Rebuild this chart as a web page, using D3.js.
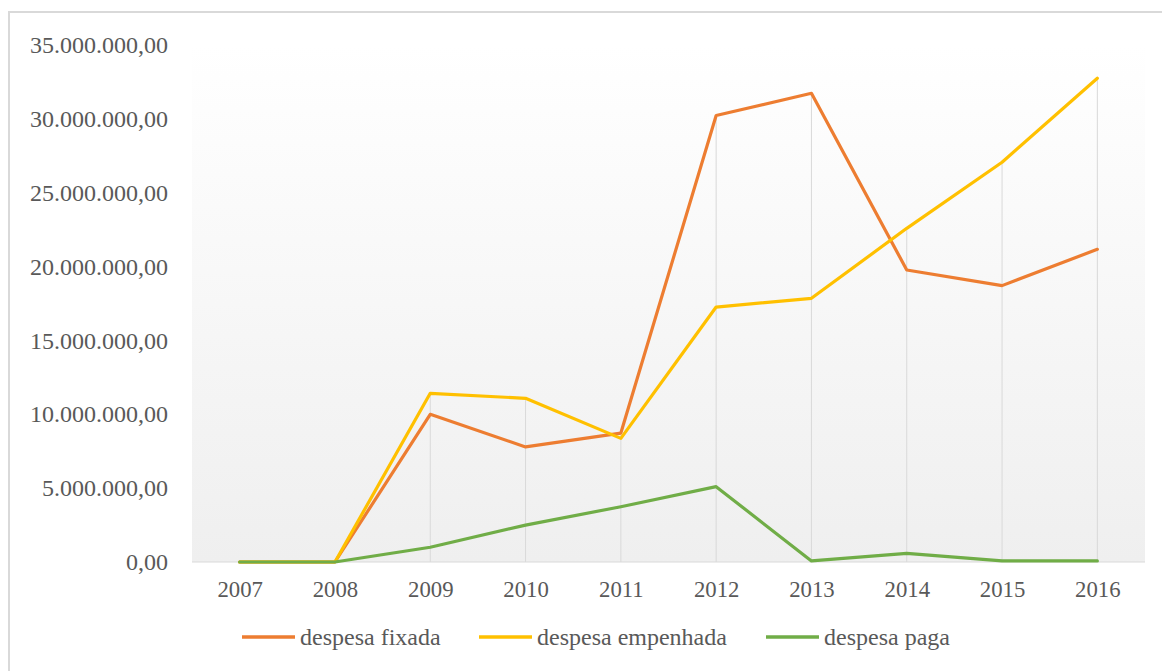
<!DOCTYPE html>
<html>
<head>
<meta charset="utf-8">
<script src="https://cdn.jsdelivr.net/npm/d3@7"></script>
<style>
  html, body { margin: 0; padding: 0; background: #ffffff; }
  svg { display: block; }
</style>
</head>
<body>
<svg id="chart" width="1162" height="671"></svg>
<script>
// ---- data ----
const years = ["2007","2008","2009","2010","2011","2012","2013","2014","2015","2016"];
const despesaFixada    = [0, 0, 10.0e6, 7.79e6, 8.73e6, 30.23e6, 31.73e6, 19.77e6, 18.71e6, 21.17e6];
const despesaEmpenhada = [0, 0, 11.42e6, 11.08e6, 8.37e6, 17.26e6, 17.85e6, 22.59e6, 27.06e6, 32.75e6];
const despesaPaga      = [0, 0, 1.0e6, 2.5e6, 3.74e6, 5.1e6, 0.07e6, 0.59e6, 0.07e6, 0.07e6];
const seriesNames  = ["despesa fixada", "despesa empenhada", "despesa paga"];
const seriesColors = ["#ED7D31", "#FFC000", "#70AD47"];
const yTicks = [0, 5e6, 10e6, 15e6, 20e6, 25e6, 30e6, 35e6];

const series = [despesaFixada, despesaEmpenhada, despesaPaga].map((vals, i) => ({
  name: seriesNames[i], color: seriesColors[i],
  values: vals.map((v, j) => ({ year: years[j], value: v }))
}));

// ---- font selection (serif, Times-like) ----
const canvas = document.createElement("canvas");
const ctx = canvas.getContext("2d");
function w(str, fam, size) { ctx.font = `${size}px ${fam}`; return ctx.measureText(str).width; }
function available(name) {
  const probe = "mmmmmmmmmmlliiWW0123";
  return ["monospace", "sans-serif"].some(b => Math.abs(w(probe, `"${name}", ${b}`, 72) - w(probe, b, 72)) > 0.5);
}
const candidates = ["Liberation Serif", "Tinos", "Times New Roman", "Nimbus Roman", "DejaVu Serif", "Noto Serif"];
const fontName = candidates.find(available) || "serif";
const FONT = `"${fontName}", serif`;
function sizeFor(str, targetWidth) { return 100 * targetWidth / w(str, FONT, 100); }
const yTickSize = Math.min(sizeFor("35.000.000,00", 138), 24);
const xTickSize = Math.min(sizeFor("2007", 45.5), 24);
const legendSize = Math.min(sizeFor("despesa empenhada", 190), 26);

// ---- layout ----
const svg = d3.select("#chart");
const plot = { left: 192, right: 1145, top: 45, bottom: 562 };

const x = d3.scalePoint().domain(years).range([plot.left, plot.right]).padding(0.5);
const y = d3.scaleLinear().domain([0, 35e6]).range([plot.bottom, plot.top]);

const ptBR = d3.formatLocale({ decimal: ",", thousands: ".", grouping: [3], currency: ["R$", ""] });
const fmt = ptBR.format(",.2f");

// chart border
svg.append("rect")
  .attr("x", 9).attr("y", 12).attr("width", 1200).attr("height", 700)
  .attr("fill", "#ffffff").attr("stroke", "#d9d9d9").attr("stroke-width", 2);

// plot area gradient
const defs = svg.append("defs");
const grad = defs.append("linearGradient").attr("id", "bg").attr("x1", 0).attr("y1", 0).attr("x2", 0).attr("y2", 1);
grad.append("stop").attr("offset", "0%").attr("stop-color", "#ffffff");
grad.append("stop").attr("offset", "100%").attr("stop-color", "#efefef");
svg.append("rect")
  .attr("x", plot.left).attr("y", plot.top)
  .attr("width", plot.right - plot.left).attr("height", plot.bottom - plot.top)
  .attr("fill", "url(#bg)");

// drop lines (from highest value to baseline)
svg.append("g").selectAll("line")
  .data(years.map((yr, j) => ({ year: yr, max: d3.max(series, s => s.values[j].value) })).filter(d => d.max > 0))
  .join("line")
  .attr("x1", d => x(d.year)).attr("x2", d => x(d.year))
  .attr("y1", d => y(d.max)).attr("y2", y(0))
  .attr("stroke", "#d9d9d9").attr("stroke-width", 1);

// x axis
const xAxis = svg.append("g")
  .attr("transform", `translate(0,${plot.bottom})`)
  .call(d3.axisBottom(x).tickSize(0).tickPadding(19));
xAxis.select(".domain").attr("stroke", "#d9d9d9").attr("stroke-width", 1.2)
  .attr("d", `M${plot.left},0H${plot.right}`);
xAxis.selectAll("text")
  .style("font-family", FONT)
  .style("font-size", xTickSize + "px").attr("fill", "#595959").attr("dy", "0.71em");

// y axis
const yAxis = svg.append("g")
  .attr("transform", `translate(${plot.left - 24},0)`)
  .call(d3.axisLeft(y).tickValues(yTicks).tickFormat(fmt).tickSize(0).tickPadding(0));
yAxis.select(".domain").remove();
yAxis.selectAll("text")
  .style("font-family", FONT)
  .style("font-size", yTickSize + "px").attr("fill", "#595959");

// lines
const line = d3.line().x(d => x(d.year)).y(d => y(d.value));
svg.append("g").selectAll("path")
  .data(series).join("path")
  .attr("d", d => line(d.values))
  .attr("fill", "none")
  .attr("stroke", d => d.color)
  .attr("stroke-width", 3.2)
  .attr("stroke-linejoin", "round")
  .attr("stroke-linecap", "round");

// legend
const legendX = [242, 479, 766];
const legend = svg.append("g").selectAll("g")
  .data(series).join("g")
  .attr("transform", (d, i) => `translate(${legendX[i]},637)`);
legend.append("line")
  .attr("x1", 0).attr("x2", 53).attr("y1", 0).attr("y2", 0)
  .attr("stroke", d => d.color).attr("stroke-width", 3.5);
legend.append("text")
  .attr("x", 58).attr("y", 0).attr("dy", "0.32em")
  .style("font-family", FONT)
  .style("font-size", legendSize + "px")
  .attr("fill", "#595959")
  .text(d => d.name);
</script>
</body>
</html>
